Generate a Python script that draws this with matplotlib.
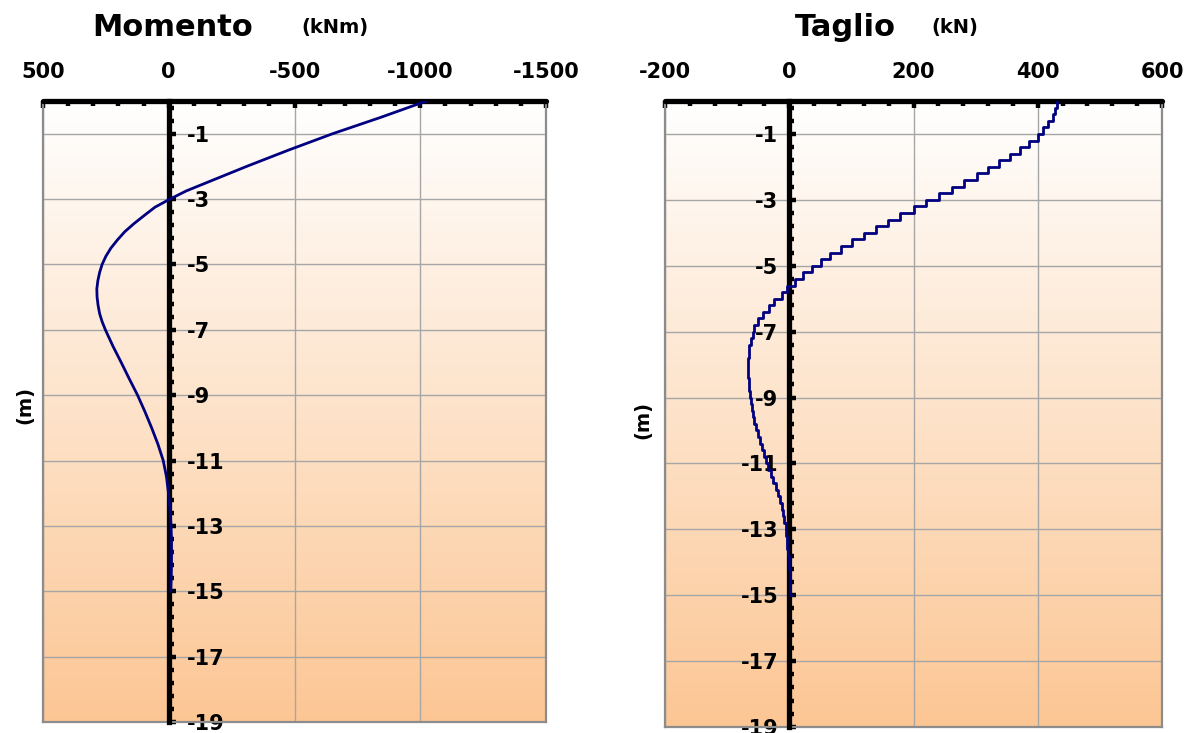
import numpy as np
import matplotlib
matplotlib.use("Agg")
from matplotlib import pyplot as plt
from matplotlib.ticker import MultipleLocator, FixedLocator

plt.rcParams['font.family'] = ['DejaVu Sans']
plt.rcParams['font.weight'] = 'bold'
plt.rcParams['axes.unicode_minus'] = False

# moment (kNm) vs depth (m)
depth_m = [0, -0.5, -1, -1.5, -2, -2.5, -2.75, -3, -3.25, -3.5, -3.75, -4, -4.25, -4.5,
           -4.75, -5, -5.25, -5.5, -5.75, -6, -6.25, -6.5, -6.75, -7, -7.25, -7.5,
           -8, -8.5, -9, -9.5, -10, -10.5, -11, -11.5, -12, -12.5, -13, -13.5, -14,
           -14.5, -15]
moment = [-1025, -843, -652, -477, -310, -150, -70, -5, 55, 97, 138, 175, 204, 230,
          250, 265, 275, 282, 286, 285, 281, 275, 265, 252, 237, 222,
          189, 157, 124, 95, 68, 43, 22, 9, 1, -5, -9, -11, -11,
          -10, -8]

# shear (kN), one value every 0.2 m from 0 to -15
depth_v = [round(-0.2 * k, 1) for k in range(76)]
shear = [431, 427, 424, 416, 408, 400, 386, 372, 355, 338,
         320, 302, 281, 262, 241, 220, 200, 179, 159, 140,
         120, 101, 84, 66, 51, 37, 22, 10, -4, -12,
         -24, -32, -42, -50, -56, -59, -62, -64, -65, -66,
         -66, -66, -65, -64, -63, -62, -60, -58, -56, -53,
         -50, -47, -44, -41, -37, -34, -30, -26, -22, -18,
         -15, -12, -10, -8, -6, -5, -4, -3, -2, -1,
         0, 1, 1, 2, 2, 3]

navy = '#000080'
grid_c = '#a6a6a6'
frame_c = '#8c8c8c'

fig = plt.figure(figsize=(11.92, 7.33), dpi=100)

# background gradient white -> light orange
top_c = np.array([255, 255, 255]) / 255
bot_c = np.array([252, 198, 148]) / 255
t = np.linspace(0, 1, 256)[:, None]
grad = (top_c * (1 - t) + bot_c * t)[:, None, :]


def setup(ax, xlim, xmajor, xminor, labels_right):
    ax.imshow(grad, extent=[0, 1, 0, 1], transform=ax.transAxes, aspect='auto', zorder=0)
    ax.set_xlim(*xlim)
    ax.set_ylim(-19, 0)
    ax.xaxis.set_major_locator(MultipleLocator(xmajor))
    ax.xaxis.set_minor_locator(MultipleLocator(xminor))
    ax.yaxis.set_major_locator(FixedLocator(np.arange(-19, 0, 2)))
    ax.yaxis.set_minor_locator(FixedLocator(np.arange(-19, 0.01, 0.4)))
    ax.grid(True, which='major', color=grid_c, lw=1.0, zorder=1)
    ax.set_axisbelow(True)
    ax.xaxis.tick_top()
    ax.tick_params(axis='x', which='both', direction='in', width=3.2, colors='k',
                   labelsize=15, pad=14)
    ax.tick_params(axis='x', which='major', length=5)
    ax.tick_params(axis='x', which='minor', length=3.5)
    ax.spines['top'].set_linewidth(3.8)
    ax.spines['top'].set_color('k')
    ax.spines['top'].set_capstyle('round')
    ax.spines['bottom'].set_color(frame_c)
    ax.spines['bottom'].set_linewidth(1.6)
    if labels_right:
        ax.yaxis.tick_right()
        ax.spines['right'].set_position(('data', 0))
        zero, other = 'right', 'left'
        ydir = 'out'
        ax.plot([1, 1], [0, 1], transform=ax.transAxes, color=frame_c, lw=1.6,
                clip_on=False, zorder=2)
    else:
        ax.yaxis.tick_left()
        ax.spines['left'].set_position(('data', 0))
        zero, other = 'left', 'right'
        ydir = 'in'
        ax.plot([0, 0], [0, 1], transform=ax.transAxes, color=frame_c, lw=1.6,
                clip_on=False, zorder=2)
    ax.spines[zero].set_linewidth(3.8)
    ax.spines[zero].set_color('k')
    ax.spines[zero].set_zorder(3)
    ax.spines[other].set_color(frame_c)
    ax.spines[other].set_linewidth(1.6)
    ax.tick_params(axis='y', which='both', direction=ydir, width=3.2, labelsize=15, pad=8)
    ax.tick_params(axis='y', which='major', length=5)
    ax.tick_params(axis='y', which='minor', length=3.5)
    for lab in ax.get_xticklabels() + ax.get_yticklabels():
        lab.set_fontweight('bold')


ax1 = fig.add_axes([43 / 1192, 1 - 722 / 733, 503 / 1192, 621 / 733])
setup(ax1, (500, -1500), 500, 100, True)
ax1.plot(moment, depth_m, color=navy, lw=2, zorder=5)

ax2 = fig.add_axes([665 / 1192, 1 - 727 / 733, 497 / 1192, 626 / 733])
setup(ax2, (-200, 600), 200, 40, False)
ax2.plot(shear, depth_v, color=navy, lw=2, drawstyle='steps-pre', zorder=5)

fig.text(173 / 1192, 1 - 27 / 733, 'Momento', ha='center', va='center', fontsize=22, fontweight='bold')
fig.text(335 / 1192, 1 - 28 / 733, '(kNm)', ha='center', va='center', fontsize=14, fontweight='bold')
fig.text(845 / 1192, 1 - 28 / 733, 'Taglio', ha='center', va='center', fontsize=22, fontweight='bold')
fig.text(955 / 1192, 1 - 28 / 733, '(kN)', ha='center', va='center', fontsize=14, fontweight='bold')
fig.text(25 / 1192, 1 - 405 / 733, '(m)', ha='center', va='center', rotation=90, fontsize=14, fontweight='bold')
fig.text(643 / 1192, 1 - 420 / 733, '(m)', ha='center', va='center', rotation=90, fontsize=14, fontweight='bold')

fig.savefig('out.png', dpi=100)
